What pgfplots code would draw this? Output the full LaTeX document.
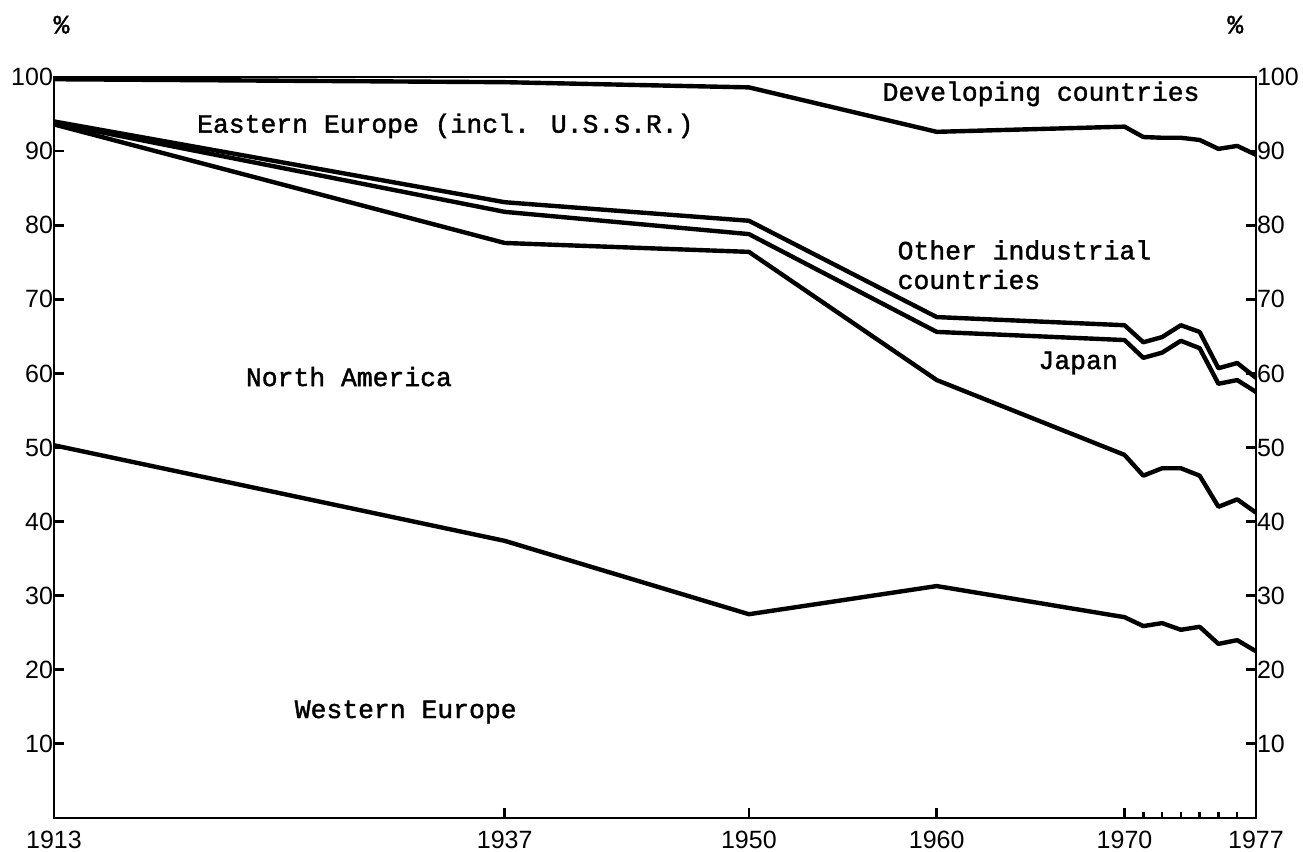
\documentclass[border=0pt]{standalone}
\usepackage{fontspec}
\usepackage{pgfplots}
\pgfplotsset{compat=1.18}
\newfontfamily\labfont[FakeBold=1.5]{Liberation Mono}
\newfontfamily\tickfont{Liberation Sans}
\pgfplotstableread{
x y
1913 50.3
1937 37.4
1950 27.5
1960 31.3
1970 27.1
1971 25.9
1972 26.3
1973 25.4
1974 25.8
1975 23.5
1976 24.0
1977 22.5
}\westeurope
\pgfplotstableread{
x y
1913 93.6
1937 77.6
1950 76.4
1960 59.1
1970 49.0
1971 46.2
1972 47.2
1973 47.2
1974 46.2
1975 42.0
1976 43.0
1977 41.2
}\northamerica
\pgfplotstableread{
x y
1913 93.8
1937 81.8
1950 78.8
1960 65.6
1970 64.5
1971 62.1
1972 62.8
1973 64.4
1974 63.4
1975 58.6
1976 59.1
1977 57.5
}\japan
\pgfplotstableread{
x y
1913 94.0
1937 83.1
1950 80.6
1960 67.6
1970 66.5
1971 64.2
1972 64.9
1973 66.5
1974 65.6
1975 60.7
1976 61.4
1977 59.4
}\otherind
\pgfplotstableread{
x y
1913 99.7
1937 99.3
1950 98.6
1960 92.6
1970 93.3
1971 91.9
1972 91.8
1973 91.8
1974 91.5
1975 90.3
1976 90.7
1977 89.5
}\developing
\begin{document}
\begin{tikzpicture}
\useasboundingbox (-27pt,-17pt) rectangle (624.5pt,409pt);
\begin{axis}[
  at={(0,0)}, anchor=south west,
  scale only axis, width=601pt, height=370.5pt,
  xmin=1913, xmax=1977, ymin=0, ymax=100,
  clip=false,
  axis line style={line width=1.4pt},
  tick align=inside,
  xtick={1913,1937,1950,1960,1970,1977},
  xticklabels={1913,1937,1950,1960,1970,1977},
  minor xtick={1971,1972,1973,1974,1975,1976},
  xtick pos=bottom,
  ytick={10,20,...,100},
  ytick pos=both,
  major tick length=5pt, minor tick length=3pt,
  every tick/.style={black, line width=1.4pt},
  every minor tick/.style={black, line width=1.2pt},
  tick label style={font=\tickfont\fontsize{12.5}{14}\selectfont},
  /pgf/number format/assume math mode=true,
  xticklabel style={yshift=-3pt},
  yticklabel style={xshift=3pt},
]
\addplot[black, line width=2.2pt, line join=round] table {\westeurope};
\addplot[black, line width=2.2pt, line join=round] table {\northamerica};
\addplot[black, line width=2.2pt, line join=round] table {\japan};
\addplot[black, line width=2.2pt, line join=round] table {\otherind};
\addplot[black, line width=2.2pt, line join=round] table {\developing};
\begin{scope}[every node/.style={font=\labfont\fontsize{13.2}{15}\selectfont, inner sep=0pt, text height=0.6em, text depth=0pt, anchor=west}]
\node at (axis cs:1920.6,93.3) {Eastern Europe (incl. U.S.S.R.)};
\node at (axis cs:1957.1,97.6) {Developing countries};
\node at (axis cs:1957.9,76.2) {Other industrial};
\node at (axis cs:1957.9,72.2) {countries};
\node at (axis cs:1965.4,61.4) {Japan};
\node at (axis cs:1923.2,59.1) {North America};
\node at (axis cs:1925.8,14.3) {Western Europe};
\node[anchor=center] at (axis cs:1913.4,106.7) {\%};
\node[anchor=center] at (axis cs:1975.9,106.7) {\%};
\end{scope}
\end{axis}
\begin{axis}[
  at={(0,0)}, anchor=south west,
  scale only axis, width=601pt, height=370.5pt,
  xmin=1913, xmax=1977, ymin=0, ymax=100,
  hide x axis,
  axis y line*=right,
  axis line style={line width=1.4pt},
  tick align=inside,
  ytick={10,20,...,100},
  major tick length=5pt,
  every tick/.style={black, line width=1.4pt},
  tick label style={font=\tickfont\fontsize{12.5}{14}\selectfont},
  /pgf/number format/assume math mode=true,
  yticklabel style={xshift=-3pt},
]
\end{axis}
\end{tikzpicture}
\end{document}
